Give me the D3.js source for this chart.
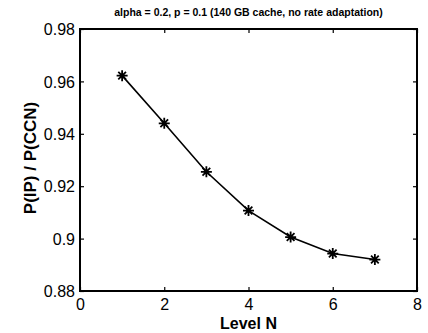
<!DOCTYPE html>
<html>
<head>
<meta charset="utf-8">
<script src="https://cdn.jsdelivr.net/npm/d3@7"></script>
<style>
  body { margin: 0; background: #fff; }
  svg { display: block; font-family: "Liberation Sans", Arial, sans-serif; }
</style>
</head>
<body>
<svg id="chart" width="428" height="333"></svg>
<script>
"use strict";

const levels = [1, 2, 3, 4, 5, 6, 7];
const ratios = [0.9622, 0.944, 0.9255, 0.9107, 0.9006, 0.8943, 0.892];
const xTicks = [0, 2, 4, 6, 8];
const yTicks = [0.88, 0.9, 0.92, 0.94, 0.96, 0.98];
const yTickLabels = ["0.88", "0.9", "0.92", "0.94", "0.96", "0.98"];

const margin = { top: 29, right: 11, bottom: 42, left: 80 };
const width = 428 - margin.left - margin.right;
const height = 333 - margin.top - margin.bottom;
const tickLen = 4;

const svg = d3.select("#chart");
const g = svg.append("g").attr("transform", `translate(${margin.left},${margin.top})`);

const x = d3.scaleLinear().domain([0, 8]).range([0, width]);
const y = d3.scaleLinear().domain([0.88, 0.98]).range([height, 0]);

// bottom + top ticks (inward)
const xAxis = d3.axisBottom(x).tickValues(xTicks).tickSizeInner(-tickLen).tickSizeOuter(0).tickPadding(8);
const gx = g.append("g").attr("transform", `translate(0,${height})`).call(xAxis);
gx.select(".domain").remove();
gx.selectAll("text").attr("font-size", 16).attr("fill", "#000");

g.append("g")
  .call(d3.axisTop(x).tickValues(xTicks).tickSizeInner(-tickLen).tickSizeOuter(0).tickFormat(""))
  .select(".domain").remove();

const yAxis = d3.axisLeft(y).tickValues(yTicks).tickSizeInner(-tickLen).tickSizeOuter(0).tickPadding(5)
  .tickFormat((d, i) => yTickLabels[i]);
const gy = g.append("g").call(yAxis);
gy.select(".domain").remove();
gy.selectAll("text").attr("font-size", 16).attr("fill", "#000").attr("dy", "0.35em");

g.append("g").attr("transform", `translate(${width},0)`)
  .call(d3.axisRight(y).tickValues(yTicks).tickSizeInner(-tickLen).tickSizeOuter(0).tickFormat(""))
  .select(".domain").remove();

g.selectAll(".tick line").attr("stroke", "#000").attr("stroke-width", 1.2);

// box
g.append("rect")
  .attr("width", width).attr("height", height)
  .attr("fill", "none").attr("stroke", "#000").attr("stroke-width", 2);

// line
const line = d3.line().x((d, i) => x(levels[i])).y(d => y(d));
g.append("path").datum(ratios)
  .attr("d", line)
  .attr("fill", "none").attr("stroke", "#000").attr("stroke-width", 1.6);

// asterisk markers
const r = 5.5;
const star = `M${-r},0L${r},0M0,${-r}L0,${r}` +
  `M${-r * 0.7},${-r * 0.7}L${r * 0.7},${r * 0.7}M${-r * 0.7},${r * 0.7}L${r * 0.7},${-r * 0.7}`;
g.selectAll(".mk").data(ratios).enter().append("path")
  .attr("class", "mk")
  .attr("transform", (d, i) => `translate(${x(levels[i])},${y(d)})`)
  .attr("d", star)
  .attr("stroke", "#000").attr("stroke-width", 1.8).attr("fill", "none");

// title
svg.append("text")
  .attr("x", margin.left + width / 2).attr("y", 16)
  .attr("text-anchor", "middle").attr("font-size", 10.5).attr("font-weight", "bold")
  .text("alpha = 0.2, p = 0.1 (140 GB cache, no rate adaptation)");

// axis labels
svg.append("text")
  .attr("x", margin.left + width / 2).attr("y", 329)
  .attr("text-anchor", "middle").attr("font-size", 16).attr("font-weight", "bold")
  .text("Level N");

svg.append("text")
  .attr("transform", `translate(36,158) rotate(-90)`)
  .attr("text-anchor", "middle").attr("font-size", 17).attr("font-weight", "bold")
  .text("P(IP) / P(CCN)");
</script>
</body>
</html>
